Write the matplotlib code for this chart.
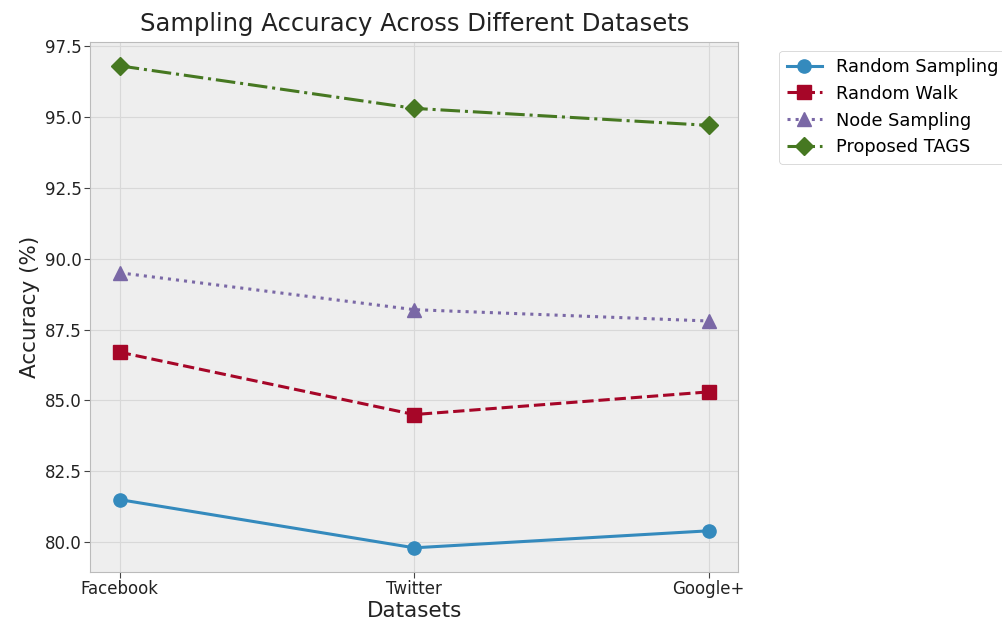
import matplotlib
matplotlib.use('Agg')
import matplotlib.pyplot as plt

plt.style.use('bmh')

datasets = ['Facebook', 'Twitter', 'Google+']
random_sampling = [81.5, 79.8, 80.4]
random_walk = [86.7, 84.5, 85.3]
node_sampling = [89.5, 88.2, 87.8]
proposed_tags = [96.8, 95.3, 94.7]

fig, ax = plt.subplots(figsize=(10.03, 6.23), dpi=100)
fig.subplots_adjust(left=0.09, right=0.736, top=0.933, bottom=0.082)

ax.plot(datasets, random_sampling, 'o-', markersize=9.5, linewidth=2.2, label='Random Sampling')
ax.plot(datasets, random_walk, 's--', markersize=9.5, linewidth=2.2, label='Random Walk')
ax.plot(datasets, node_sampling, '^:', markersize=9.5, linewidth=2.2, label='Node Sampling')
ax.plot(datasets, proposed_tags, 'D-.', markersize=9.5, linewidth=2.2, label='Proposed TAGS')

ax.grid(True, linestyle='-', color='#d8d8d8', linewidth=0.8)
ax.set_title('Sampling Accuracy Across Different Datasets', fontsize=17.5, color='#222222', pad=8)
ax.set_xlabel('Datasets', fontsize=15.5, color='#222222', labelpad=2)
ax.set_ylabel('Accuracy (%)', fontsize=15.5, color='#222222')
ax.tick_params(labelsize=12, labelcolor='#222222', color='#444444', length=4, pad=2, direction='out')
for s in ax.spines.values():
    s.set_color('#bbbbbb')
leg = ax.legend(bbox_to_anchor=(1.05, 1), loc='upper left', fontsize=12.8, labelspacing=0.5,
                facecolor='white', edgecolor='#cccccc', framealpha=1)

fig.savefig('out.png', dpi=100)
